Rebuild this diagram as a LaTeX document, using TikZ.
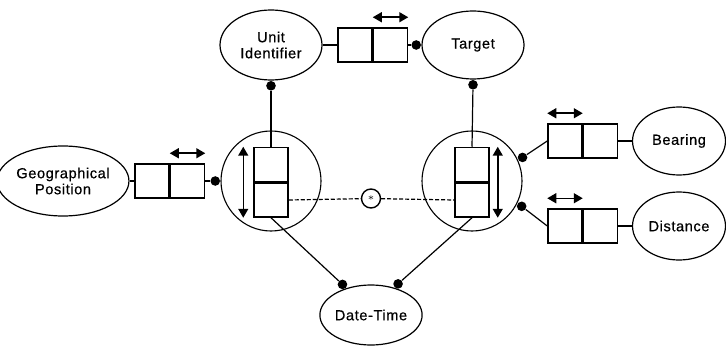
\documentclass[tikz,border=0pt]{standalone}
\usepackage{fontspec}
\setmainfont{Liberation Sans}[LetterSpace=3]
\newfontfamily\labelfam{Liberation Sans}[LetterSpace=4, FakeBold=0.5]
\usepackage{tikz}
\usetikzlibrary{positioning, shapes.geometric, arrows.meta, calc}

\newcommand{\labelfont}{\labelfam\fontsize{7.3}{8}\selectfont}

\begin{document}
\begin{tikzpicture}[
    x=0.5pt, y=-0.5pt,
    entity/.style={ellipse, draw, line width=0.6pt, inner sep=0pt, align=center, font=\labelfont},
    cell/.style={rectangle, draw, line width=0.75pt, minimum width=17pt, minimum height=17pt, inner sep=0pt},
    hub/.style={circle, draw, line width=0.55pt, minimum size=50pt, inner sep=0pt},
    dot/.style={circle, fill, inner sep=0pt, minimum size=4.8pt},
    link/.style={line width=0.6pt},
    flip/.style={{Triangle[length=4.5pt,width=5pt]}-{Triangle[length=4.5pt,width=5pt]}, line width=0.75pt},
]
\useasboundingbox (0,0) rectangle (726,347);

% Entities
\node[entity, minimum width=51pt, minimum height=35pt] (unit) at (271,45) {Unit\\Identifier};
\node[entity, minimum width=51pt, minimum height=34pt] (target) at (473,45) {Target};
\node[entity, minimum width=55pt, minimum height=35pt] (geo) at (63,181) {Geographical\\Position};
\node[entity, minimum width=46.5pt, minimum height=34pt] (bearing) at (679,141) {Bearing};
\node[entity, minimum width=46.5pt, minimum height=34pt] (distance) at (679,226) {Distance};
\node[entity, minimum width=51pt, minimum height=30pt] (datetime) at (371,315) {Date-Time};

% Hubs with their vertical pairs
\node[hub] (lhub) at (271,181) {};
\node[hub] (rhub) at (472,181) {};
\node[cell] (l1) at (271,164.5) {};
\node[cell, below=0pt of l1] (l2) {};
\node[cell] (r1) at (472,164.5) {};
\node[cell, below=0pt of r1] (r2) {};

% Horizontal pairs
\node[cell] (g1) at (152,181) {};
\node[cell, right=0pt of g1] (g2) {};
\node[cell] (u1) at (355,45) {};
\node[cell, right=0pt of u1] (u2) {};
\node[cell] (b1) at (565,141) {};
\node[cell, right=0pt of b1] (b2) {};
\node[cell] (d1) at (565,226) {};
\node[cell, right=0pt of d1] (d2) {};

% Join marker
\node[circle, draw, line width=0.7pt, minimum size=9.5pt, inner sep=0pt] (join) at (371,198.5) {\tiny$\ast$};

% Double arrows
\draw[flip] ($(g2.north west)+(0,-10)$) -- ($(g2.north east)+(0,-10)$);
\draw[flip] ($(u2.north west)+(0,-10)$) -- ($(u2.north east)+(0,-10)$);
\draw[flip] ($(b1.north west)+(0,-10)$) -- ($(b1.north east)+(0,-10)$);
\draw[flip] ($(d1.north west)+(0,-10)$) -- ($(d1.north east)+(0,-10)$);
\draw[flip] ($(l1.north west)+(-10,0)$) -- ($(l2.south west)+(-10,0)$);
\draw[flip] ($(r1.north east)+(8,0)$) -- ($(r2.south east)+(8,0)$);

% Dots
\node[dot, anchor=north] (unitdot) at (unit.south) {};
\node[dot, anchor=north] (targetdot) at (target.south) {};
\node[dot, anchor=east] (targetin) at (target.west) {};
\node[dot, anchor=east] (geodot) at (lhub.west) {};
\node[dot, anchor=205] (bearingdot) at (rhub.25) {};
\node[dot, anchor=153] (distdot) at (rhub.-27) {};
\node[dot, anchor=-47] (dtleft) at (datetime.133) {};
\node[dot, anchor=229] (dtright) at (datetime.49) {};

% Links
\draw[link] (unit.east) -- (u1.west);
\draw[link] (u2.east) -- (targetin);
\draw[link] (unitdot) -- (l1.north);
\draw[link] (targetdot) -- (r1.north);
\draw[link] (geo.east) -- (g1.west);
\draw[link] (g2.east) -- (geodot);
\draw[link] (bearingdot) -- (b1.west);
\draw[link] (distdot) -- (d1.west);
\draw[link] (b2.east) -- (bearing.west);
\draw[link] (d2.east) -- (distance.west);
\draw[link] (l2.south) -- (dtleft);
\draw[link] (r2.south) -- (dtright);
\draw[link, dash pattern=on 2pt off 1pt] (l2.east) -- (join);
\draw[link, dash pattern=on 2pt off 1pt] (join) -- (r2.west);

\end{tikzpicture}
\end{document}
